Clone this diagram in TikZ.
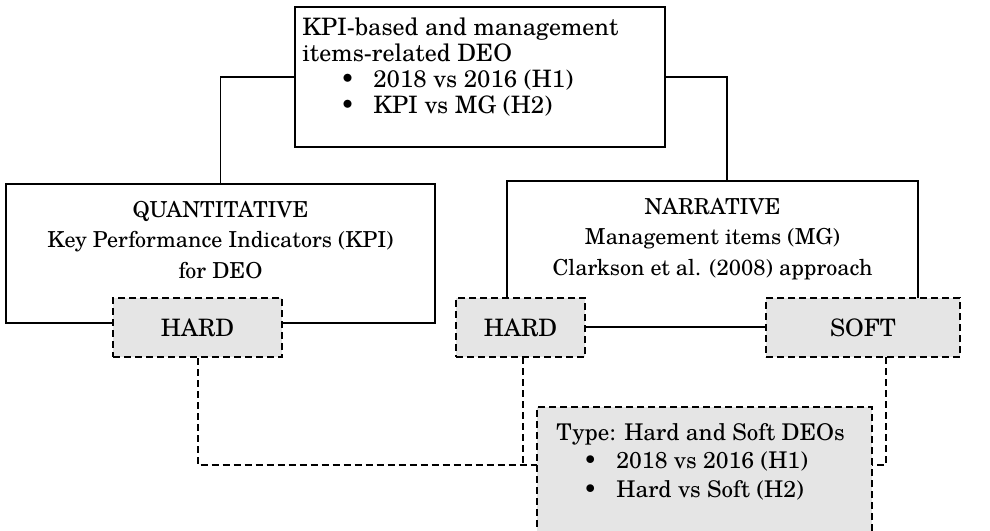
\documentclass[tikz,border=0pt]{standalone}
\usepackage{fontspec}
\setmainfont{TeX Gyre Schola}
\begin{document}
\begin{tikzpicture}[x=0.5pt,y=-0.5pt,
  box/.style={draw=black,line width=0.65pt,inner sep=0pt},
  gbox/.style={draw=black,fill=boxgray,line width=1pt,dash pattern=on 3.5pt off 2pt,inner sep=0pt,minimum height=29.5pt},
  conn/.style={draw=black,line width=0.65pt},
  dconn/.style={draw=black,line width=1pt,dash pattern=on 3.5pt off 2pt},
  txt/.style={inner sep=0pt,font=\fontsize{11}{15.25}\selectfont},
  gtxt/.style={inner sep=0pt,font=\fontsize{12}{14}\selectfont}]
\definecolor{boxgray}{HTML}{E5E5E5}
\useasboundingbox (0,0) rectangle (990,530);
\clip (0,0) rectangle (990,530);
% main boxes
\node[box,minimum width=185pt,minimum height=70pt] (top) at (480,77) {};
\node[box,minimum width=214.5pt,minimum height=69.5pt] (left) at (220.5,253.5) {};
\node[box,minimum width=205.5pt,minimum height=73pt] (right) at (712.5,254) {};
% connectors
\coordinate (rtop) at (727,181);
\draw[conn] (top.west) -| (left.north);
\draw[conn] (top.east) -| (rtop);
% gray boxes
\node[gbox,minimum width=84.5pt] (h1) at (197.5,327.5) {};
\node[gbox,minimum width=64.5pt] (h2) at (520.5,327.5) {};
\node[gbox,minimum width=97pt] (soft) at (863,327.5) {};
\draw[conn] (h2.east) -- (soft.west);
\coordinate (bl) at (537,465);
\coordinate (br) at (872,465);
\coordinate (sj) at (886,357);
\coordinate (hj) at (523,357);
\draw[dconn] (h1.south) |- (bl);
\draw[dconn] (hj) -- (hj |- bl);
\draw[dconn] (sj) |- (br);
\node[gbox,minimum width=167.5pt,minimum height=81.5pt] (bot) at (704.5,488.5) {};
% texts
\node[txt,anchor=base west,align=left,font=\fontsize{12}{13}\selectfont] (toptext) at (302,113)
  {KPI-based and management\\items-related DEO\\
   \hspace*{19pt}\makebox[16.5pt][l]{\textbullet}2018 vs 2016 (H1)\\
   \hspace*{19pt}\makebox[16.5pt][l]{\textbullet}KPI vs MG (H2)};
\node[txt,anchor=base,align=center] (lefttext) at (220.5,278)
  {QUANTITATIVE\\Key Performance Indicators (KPI)\\for DEO};
\node[txt,anchor=base,align=center] (righttext) at (712.5,275)
  {NARRATIVE\\Management items (MG)\\Clarkson et al. (2008) approach};
\node[gtxt] (h1text) at (h1) {HARD};
\node[gtxt] (h2text) at (h2) {HARD};
\node[gtxt] (softtext) at (soft) {SOFT};
\node[txt,anchor=base west,align=left,font=\fontsize{11.5}{14.25}\selectfont] (bottext) at (556,497)
  {Type: Hard and Soft DEOs\\
   \hspace*{13.5pt}\makebox[16.5pt][l]{\textbullet}2018 vs 2016 (H1)\\
   \hspace*{13.5pt}\makebox[16.5pt][l]{\textbullet}Hard vs Soft (H2)};
\end{tikzpicture}
\end{document}
